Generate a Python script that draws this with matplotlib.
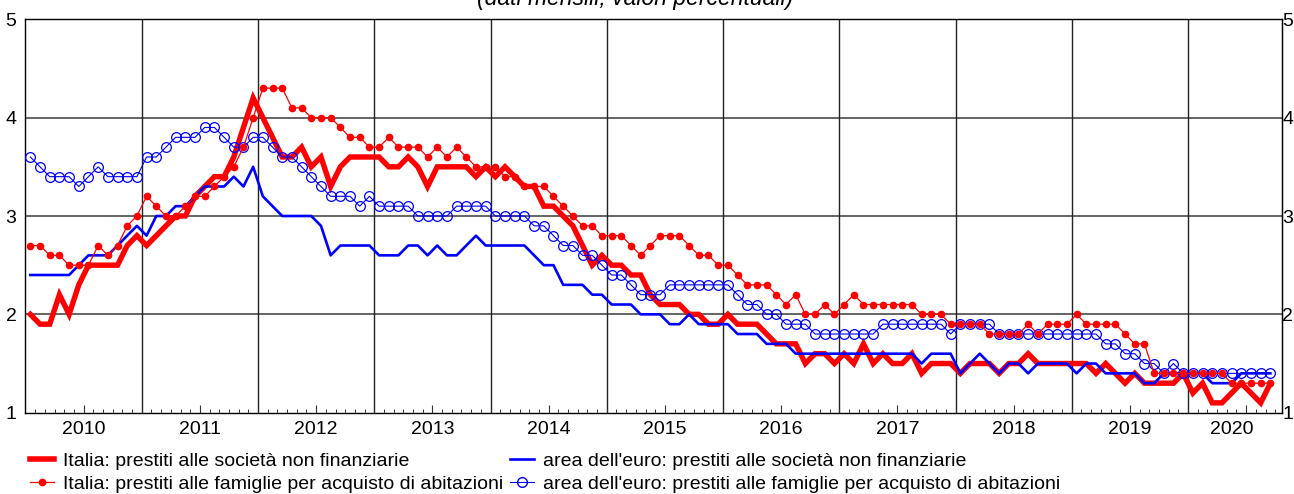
import numpy as np
import matplotlib
matplotlib.use("Agg")
import matplotlib.pyplot as plt
from matplotlib.lines import Line2D

plt.rcParams["font.family"] = ["Liberation Sans", "DejaVu Sans"]

# monthly data, Jan 2010 .. Sep 2020 (percent)
ita_firms = [
    2.0, 1.9, 1.9, 2.2, 2.0, 2.3, 2.5, 2.5, 2.5, 2.5, 2.7, 2.8,
    2.7, 2.8, 2.9, 3.0, 3.0, 3.2, 3.3, 3.4, 3.4, 3.6, 3.9, 4.2,
    4.0, 3.8, 3.6, 3.6, 3.7, 3.5, 3.6, 3.3, 3.5, 3.6, 3.6, 3.6,
    3.6, 3.5, 3.5, 3.6, 3.5, 3.3, 3.5, 3.5, 3.5, 3.5, 3.4, 3.5,
    3.4, 3.5, 3.4, 3.3, 3.3, 3.1, 3.1, 3.0, 2.9, 2.7, 2.5, 2.6,
    2.5, 2.5, 2.4, 2.4, 2.2, 2.1, 2.1, 2.1, 2.0, 2.0, 1.9, 1.9,
    2.0, 1.9, 1.9, 1.9, 1.8, 1.7, 1.7, 1.7, 1.5, 1.6, 1.6, 1.5,
    1.6, 1.5, 1.7, 1.5, 1.6, 1.5, 1.5, 1.6, 1.4, 1.5, 1.5, 1.5,
    1.4, 1.5, 1.5, 1.5, 1.4, 1.5, 1.5, 1.6, 1.5, 1.5, 1.5, 1.5,
    1.5, 1.5, 1.4, 1.5, 1.4, 1.3, 1.4, 1.3, 1.3, 1.3, 1.3, 1.4,
    1.2, 1.3, 1.1, 1.1, 1.2, 1.3, 1.2, 1.1, 1.3,
]
euro_firms = [
    2.4, 2.4, 2.4, 2.4, 2.4, 2.5, 2.6, 2.6, 2.6, 2.7, 2.8, 2.9,
    2.8, 3.0, 3.0, 3.1, 3.1, 3.2, 3.3, 3.3, 3.3, 3.4, 3.3, 3.5,
    3.2, 3.1, 3.0, 3.0, 3.0, 3.0, 2.9, 2.6, 2.7, 2.7, 2.7, 2.7,
    2.6, 2.6, 2.6, 2.7, 2.7, 2.6, 2.7, 2.6, 2.6, 2.7, 2.8, 2.7,
    2.7, 2.7, 2.7, 2.7, 2.6, 2.5, 2.5, 2.3, 2.3, 2.3, 2.2, 2.2,
    2.1, 2.1, 2.1, 2.0, 2.0, 2.0, 1.9, 1.9, 2.0, 1.9, 1.9, 1.9,
    1.9, 1.8, 1.8, 1.8, 1.7, 1.7, 1.7, 1.6, 1.6, 1.6, 1.6, 1.6,
    1.6, 1.6, 1.6, 1.6, 1.6, 1.6, 1.6, 1.6, 1.5, 1.6, 1.6, 1.6,
    1.4, 1.5, 1.6, 1.5, 1.4, 1.5, 1.5, 1.4, 1.5, 1.5, 1.5, 1.5,
    1.4, 1.5, 1.5, 1.4, 1.4, 1.4, 1.4, 1.3, 1.3, 1.4, 1.4, 1.4,
    1.4, 1.4, 1.3, 1.3, 1.3, 1.4, 1.4, 1.4, 1.4,
]
ita_house = [
    2.7, 2.7, 2.6, 2.6, 2.5, 2.5, 2.5, 2.7, 2.6, 2.7, 2.9, 3.0,
    3.2, 3.1, 3.0, 3.0, 3.1, 3.2, 3.2, 3.3, 3.4, 3.5, 3.7, 4.0,
    4.3, 4.3, 4.3, 4.1, 4.1, 4.0, 4.0, 4.0, 3.9, 3.8, 3.8, 3.7,
    3.7, 3.8, 3.7, 3.7, 3.7, 3.6, 3.7, 3.6, 3.7, 3.6, 3.5, 3.5,
    3.5, 3.4, 3.4, 3.3, 3.3, 3.3, 3.2, 3.1, 3.0, 2.9, 2.9, 2.8,
    2.8, 2.8, 2.7, 2.6, 2.7, 2.8, 2.8, 2.8, 2.7, 2.6, 2.6, 2.5,
    2.5, 2.4, 2.3, 2.3, 2.3, 2.2, 2.1, 2.2, 2.0, 2.0, 2.1, 2.0,
    2.1, 2.2, 2.1, 2.1, 2.1, 2.1, 2.1, 2.1, 2.0, 2.0, 2.0, 1.9,
    1.9, 1.9, 1.9, 1.8, 1.8, 1.8, 1.8, 1.9, 1.8, 1.9, 1.9, 1.9,
    2.0, 1.9, 1.9, 1.9, 1.9, 1.8, 1.7, 1.7, 1.4, 1.4, 1.4, 1.4,
    1.4, 1.4, 1.4, 1.4, 1.3, 1.3, 1.3, 1.3, 1.3,
]
euro_house = [
    3.6, 3.5, 3.4, 3.4, 3.4, 3.3, 3.4, 3.5, 3.4, 3.4, 3.4, 3.4,
    3.6, 3.6, 3.7, 3.8, 3.8, 3.8, 3.9, 3.9, 3.8, 3.7, 3.7, 3.8,
    3.8, 3.7, 3.6, 3.6, 3.5, 3.4, 3.3, 3.2, 3.2, 3.2, 3.1, 3.2,
    3.1, 3.1, 3.1, 3.1, 3.0, 3.0, 3.0, 3.0, 3.1, 3.1, 3.1, 3.1,
    3.0, 3.0, 3.0, 3.0, 2.9, 2.9, 2.8, 2.7, 2.7, 2.6, 2.6, 2.5,
    2.4, 2.4, 2.3, 2.2, 2.2, 2.2, 2.3, 2.3, 2.3, 2.3, 2.3, 2.3,
    2.3, 2.2, 2.1, 2.1, 2.0, 2.0, 1.9, 1.9, 1.9, 1.8, 1.8, 1.8,
    1.8, 1.8, 1.8, 1.8, 1.9, 1.9, 1.9, 1.9, 1.9, 1.9, 1.9, 1.8,
    1.9, 1.9, 1.9, 1.9, 1.8, 1.8, 1.8, 1.8, 1.8, 1.8, 1.8, 1.8,
    1.8, 1.8, 1.8, 1.7, 1.7, 1.6, 1.6, 1.5, 1.5, 1.4, 1.5, 1.4,
    1.4, 1.4, 1.4, 1.4, 1.4, 1.4, 1.4, 1.4, 1.4,
]
years = list(range(2010, 2021))
labels = [
    "Italia: prestiti alle società non finanziarie",
    "Italia: prestiti alle famiglie per acquisto di abitazioni",
    "area dell'euro: prestiti alle società non finanziarie",
    "area dell'euro: prestiti alle famiglie per acquisto di abitazioni",
]

RED = "#ff0000"
BLUE = "#0000ff"
FS = 14

n = len(ita_firms)
x = np.arange(n) + 0.5  # month centres
x_end = 129.7

fig = plt.figure(figsize=(12.94, 4.94), dpi=100)
ax = fig.add_axes([25.5 / 1294, 1 - 412.7 / 494, (1282 - 25.5) / 1294, (412.7 - 19.3) / 494])

ax.plot(x, ita_firms, color=RED, lw=3.9, solid_joinstyle="miter", zorder=3)
ax.plot(x, euro_firms, color=BLUE, lw=1.9, zorder=4)
ax.plot(x, euro_house, color=BLUE, lw=0.8, marker="o", ms=7, mfc="none",
        mec=BLUE, mew=0.9, zorder=5)
ax.plot(x, ita_house, color=RED, lw=0.9, marker="o", ms=4.5, mfc=RED,
        mec=RED, zorder=6)

ax.set_xlim(0, x_end)
ax.set_ylim(1, 5)

# grid: horizontal at integer levels, vertical at year boundaries
for v in (2, 3, 4):
    ax.axhline(v, color="#3a3a3a", lw=1.1, zorder=1)
for k in range(1, len(years)):
    ax.axvline(12 * k, color="#222222", lw=1.0, zorder=1)

ax.set_yticks([1, 2, 3, 4, 5])
ax.tick_params(axis="y", left=False, right=False, labelleft=True,
               labelright=False, labelsize=FS, pad=3)
sec = ax.secondary_yaxis("right")
sec.set_yticks([1, 2, 3, 4, 5])
sec.tick_params(length=0, pad=0, labelsize=FS)

ax.set_xticks([12 * k + 6 for k in range(len(years))])
ax.set_xticks(np.arange(1, x_end), minor=True)
ax.set_xticklabels([])
ax.tick_params(axis="x", which="major", direction="in", length=6, width=0.8,
               top=False, color="#333333")
ax.tick_params(axis="x", which="minor", direction="in", length=3, width=0.7,
               top=False, color="#333333")

trans = ax.get_xaxis_transform()
for k, yr in enumerate(years):
    lo = 12 * k
    hi = min(12 * k + 12, n)
    ax.text((lo + hi) / 2, -0.022, str(yr), transform=trans, ha="center",
            va="top", fontsize=FS)

for s in ax.spines.values():
    s.set_color("black")
    s.set_linewidth(1.0)

fig.text(635 / 1294, 1 - 5 / 494, "(dati mensili; valori percentuali)",
         ha="center", va="baseline", fontsize=16.5, style="italic")

handles = [
    Line2D([], [], color=RED, lw=4),
    Line2D([], [], color=RED, lw=0.9, marker="o", ms=4.5, mfc=RED, mec=RED),
    Line2D([], [], color=BLUE, lw=1.9),
    Line2D([], [], color=BLUE, lw=0.8, marker="o", ms=7, mfc="none", mec=BLUE),
]
fig.legend(handles, labels, ncol=2, loc="upper left",
           bbox_to_anchor=(30 / 1294, 1 - 452 / 494), frameon=False,
           fontsize=FS, handlelength=1.25, handletextpad=0.45,
           columnspacing=0.35, labelspacing=0.3, borderaxespad=0, borderpad=0)

fig.savefig("out.png", dpi=100)
